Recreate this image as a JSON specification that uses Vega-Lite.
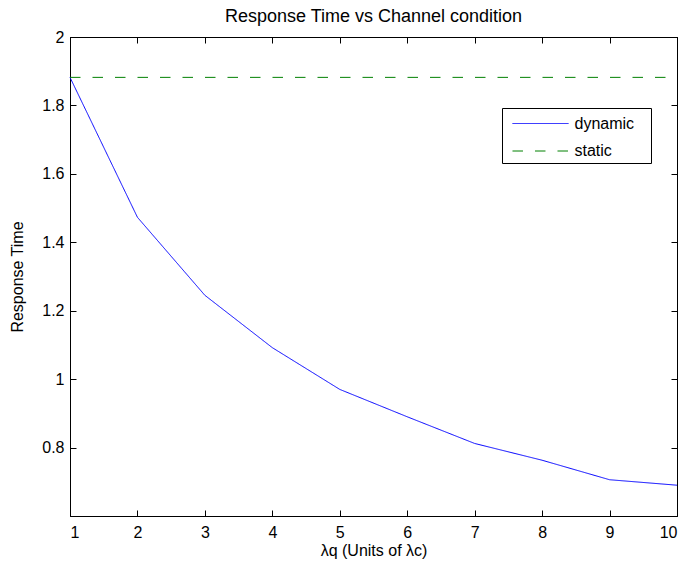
{
  "$schema": "https://vega.github.io/schema/vega-lite/v6.json",
  "width": 607,
  "height": 479,
  "autosize": {"type": "none"},
  "padding": {"left": 70, "top": 37, "right": 12, "bottom": 55},
  "background": "white",
  "title": {
    "text": "Response Time vs Channel condition",
    "font": "Liberation Sans",
    "fontSize": 18,
    "fontWeight": "normal",
    "color": "black",
    "offset": 3
  },
  "data": {
    "values": [
      {"x": 1, "v": 1.882, "series": "dynamic"},
      {"x": 2, "v": 1.473, "series": "dynamic"},
      {"x": 3, "v": 1.245, "series": "dynamic"},
      {"x": 4, "v": 1.092, "series": "dynamic"},
      {"x": 5, "v": 0.970, "series": "dynamic"},
      {"x": 6, "v": 0.890, "series": "dynamic"},
      {"x": 7, "v": 0.812, "series": "dynamic"},
      {"x": 8, "v": 0.763, "series": "dynamic"},
      {"x": 9, "v": 0.706, "series": "dynamic"},
      {"x": 10, "v": 0.690, "series": "dynamic"},
      {"x": 1, "v": 1.882, "series": "static"},
      {"x": 10, "v": 1.882, "series": "static"}
    ]
  },
  "config": {
    "view": {"stroke": "black", "strokeWidth": 1},
    "axis": {
      "grid": false,
      "domainColor": "black",
      "domainWidth": 1,
      "tickColor": "black",
      "tickWidth": 1,
      "tickSize": -6,
      "labelFont": "Liberation Sans",
      "labelFontSize": 16,
      "labelColor": "black",
      "titleFont": "Liberation Sans",
      "titleFontSize": 16,
      "titleFontWeight": "normal",
      "titleColor": "black"
    }
  },
  "layer": [
    {
      "mark": {"type": "line", "strokeWidth": 1},
      "encoding": {
        "x": {
          "field": "x",
          "type": "quantitative",
          "scale": {"domain": [1, 10], "nice": false, "zero": false},
          "axis": {
            "orient": "bottom",
            "values": [1, 2, 3, 4, 5, 6, 7, 8, 9, 10],
            "format": "d",
            "labelPadding": 14,
            "title": "λq (Units of λc)",
            "titlePadding": 2
          }
        },
        "y": {
          "field": "v",
          "type": "quantitative",
          "scale": {"domain": [0.6, 2], "nice": false, "zero": false},
          "axis": {
            "orient": "left",
            "values": [0.8, 1, 1.2, 1.4, 1.6, 1.8, 2],
            "format": "~g",
            "labelPadding": 12,
            "title": "Response Time",
            "titlePadding": 16
          }
        },
        "color": {
          "field": "series",
          "type": "nominal",
          "scale": {"domain": ["dynamic", "static"], "range": ["#0000ff", "#008000"]},
          "legend": {
            "orient": "none",
            "legendX": 432,
            "legendY": 71,
            "title": "\u00a0",
            "titleOrient": "right",
            "titlePadding": 13,
            "titleFontSize": 16,
            "strokeColor": "black",
            "fillColor": "white",
            "padding": 3.5,
            "symbolType": "M-2.5,0H2.5",
            "symbolSize": 502,
            "symbolStrokeWidth": 1,
            "symbolOffset": 23,
            "labelOffset": 22,
            "labelFont": "Liberation Sans",
            "labelFontSize": 16,
            "labelColor": "black",
            "rowPadding": 7.5
          }
        },
        "strokeDash": {
          "field": "series",
          "type": "nominal",
          "scale": {"domain": ["dynamic", "static"], "range": [[1, 0], [10.5, 12]]},
          "legend": null
        }
      }
    },
    {
      "mark": {"type": "line", "opacity": 0},
      "encoding": {
        "x": {
          "field": "x",
          "type": "quantitative",
          "axis": {
            "orient": "top",
            "values": [1, 2, 3, 4, 5, 6, 7, 8, 9, 10],
            "labels": false,
            "title": null
          }
        },
        "y": {
          "field": "v",
          "type": "quantitative",
          "axis": {
            "orient": "right",
            "values": [0.8, 1, 1.2, 1.4, 1.6, 1.8, 2],
            "labels": false,
            "title": null
          }
        }
      }
    }
  ],
  "resolve": {"axis": {"x": "independent", "y": "independent"}}
}
